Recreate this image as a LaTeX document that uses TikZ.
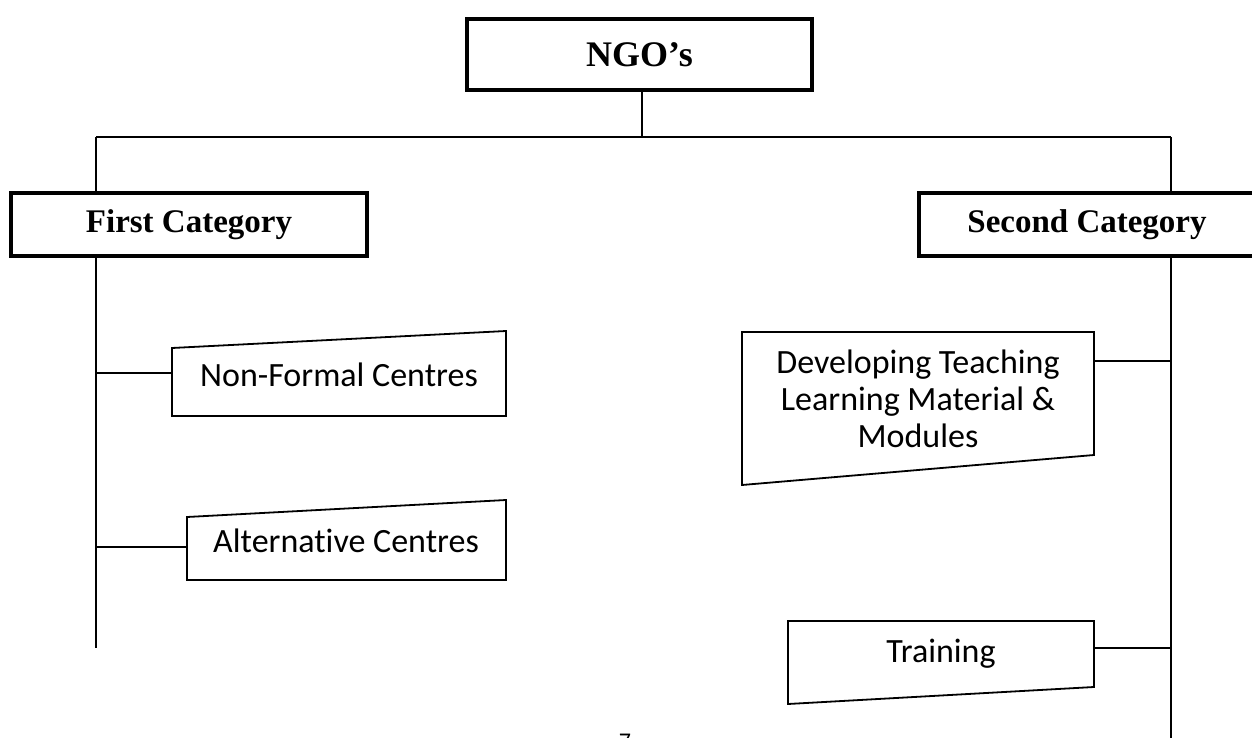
\documentclass[tikz,border=0pt]{standalone}
\usepackage{fontspec}
\setmainfont{Carlito}[Ligatures=NoCommon]
\newfontfamily\headfont{Liberation Serif}
\begin{document}
\begin{tikzpicture}[x=1pt,y=-1pt,
  thinline/.style={line width=1.8pt},
  headbox/.style={draw, line width=3.5pt, inner sep=0pt, font=\headfont\bfseries\fontsize{33}{38}\selectfont},
  itemtext/.style={font=\fontsize{34}{37}\selectfont, align=center, inner sep=0pt},
  itembox/.style={draw, line width=1.8pt, line join=miter}]

\useasboundingbox (0,0) rectangle (1252,738);
\clip (0,0) rectangle (1252,738);

% top level
\node[headbox, line width=4.5pt, minimum width=345pt, minimum height=71pt, font=\headfont\bfseries\fontsize{36}{40}\selectfont] (ngo) at (639.5,54.5) {NGO’s};
\node[headbox, minimum width=356pt, minimum height=63pt] (first) at (189,224.5) {First Category};
\node[headbox, minimum width=336pt, minimum height=63pt] (second) at (1087,224.5) {Second Category};

\coordinate (hub) at (642,137);
\coordinate (lj) at (96,137);
\coordinate (rj) at (1171,137);
\coordinate (lend) at (96,648);
\coordinate (rend) at (1171,745);

\draw[thinline] (ngo.south -| hub) -- (hub);
\draw[thinline] (lj) -- (rj);
\draw[thinline] (lj) -- (lj |- first.north);
\draw[thinline] (rj) -- (rj |- second.north);
\draw[thinline] (lj |- first.south) -- (lend);
\draw[thinline] (rj |- second.south) -- (rend);

% first category items
\draw[itembox] (172,348) -- (506,331) -- (506,416) -- (172,416) -- cycle;
\node[itemtext, anchor=base] (nfc) at (339,386) {Non-Formal Centres};
\coordinate (nfcin) at (172,373);
\draw[thinline] (lend |- nfcin) -- (nfcin);

\draw[itembox] (187,517) -- (506,500) -- (506,580) -- (187,580) -- cycle;
\node[itemtext, anchor=base] (alt) at (346,552) {Alternative Centres};
\coordinate (altin) at (187,547);
\draw[thinline] (lend |- altin) -- (altin);

% second category items
\draw[itembox] (742,332) -- (1094,332) -- (1094,455) -- (742,485) -- cycle;
\node[itemtext] (dev) at (918,399) {Developing Teaching\\Learning Material \&\\Modules};
\coordinate (devout) at (1094,361);
\draw[thinline] (devout) -- (rend |- devout);

\draw[itembox] (788,621) -- (1094,621) -- (1094,687) -- (788,704) -- cycle;
\node[itemtext, anchor=base] (trn) at (941,662) {Training};
\coordinate (trnout) at (1094,648);
\draw[thinline] (trnout) -- (rend |- trnout);

% page number (cut off at the page edge, as in the reference)
\node[font=\fontsize{24}{28}\selectfont, anchor=base, inner sep=0pt] (pg) at (625,749.5) {7};
\end{tikzpicture}
\end{document}
